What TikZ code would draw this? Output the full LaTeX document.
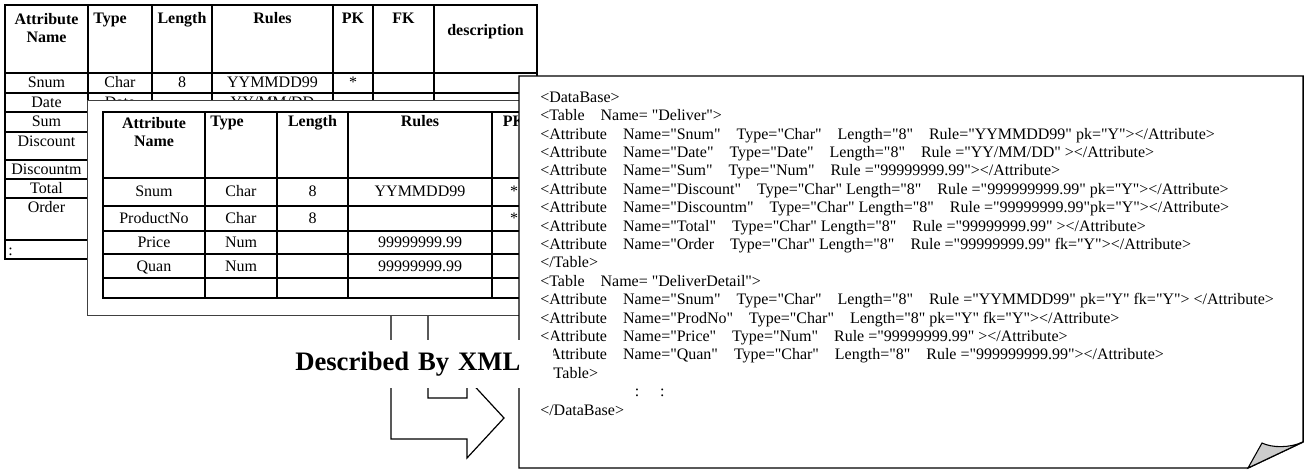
\documentclass[tikz,border=0pt]{standalone}
\usepackage{fontspec}
\setmainfont{Liberation Serif}[Ligatures=TeXOff]

\newcommand{\fgap}{\hspace{1.0em}}

\begin{document}
\begin{tikzpicture}[
        x=0.75pt, y=-0.75pt,
        cell/.style={font=\fontsize{12}{13.8}\selectfont, inner sep=0pt, anchor=base},
        head/.style={cell, font=\fontsize{12}{13.8}\selectfont\bfseries},
        headtwo/.style={head, align=center, anchor=north},
        grid/.style={line width=1.5pt, line cap=rect},
        panel/.style={fill=white, draw=black!75, line width=0.6pt},
        page/.style={fill=white, draw, line width=1.1pt, line join=miter},
        fold/.style={fill=black!20, draw, line width=0.8pt},
        bigarrow/.style={fill=white, draw, line width=0.9pt},
        xml/.style={font=\fontsize{12}{13.8}\selectfont, align=left, anchor=north west, inner sep=0pt},
        caption/.style={fill=white, anchor=north west, minimum height=36pt, text width=188pt,
            inner xsep=5.25pt, inner ysep=0pt, align=left, font=\fontsize{20}{24}\selectfont\bfseries}
    ]
    \useasboundingbox (0,0) rectangle (1305,470);

    % table behind
    \foreach \x in {5,88,152,212,333,373,434,537}
        \draw[grid] (\x,5) -- (\x,259);
    \foreach \y in {5,73,93,112,132,160,179,198,240,259}
        \draw[grid] (5,\y) -- (537,\y);
    \node[headtwo] (bh1) at (46.5,13) {Attribute\\Name};
    \node[head, anchor=base west] (bh2) at (93,24) {Type};
    \node[head] (bh3) at (182,24) {Length};
    \node[head] (bh4) at (272.5,24) {Rules};
    \node[head] (bh5) at (353,24) {PK};
    \node[head] (bh6) at (403.5,24) {FK};
    \node[head] (bh7) at (485.5,36) {description};
    \foreach \t/\yb [count=\i] in {Snum/88, Date/108, Sum/127, Discount/147,
            Discountm/174.5, Total/193.5, Order/213}
        \node[cell] (ba\i) at (46.5,\yb) {\t};
    \node[cell] (bb1) at (120,88) {Char};
    \node[cell] (bc1) at (182,88) {8};
    \node[cell] (bd1) at (272.5,88) {YYMMDD99};
    \node[cell] (be1) at (353,88) {*};
    \node[cell] (bb2) at (120,108) {Date};
    \node[cell] (bd2) at (272.5,108) {YY/MM/DD};
    \node[cell, anchor=base west] (bdots) at (8,255) {:};

    % arrow
    \draw[bigarrow] (391,300) -- (391,439) -- (467,439) -- (467,458) -- (504,418)
        -- (467,378) -- (467,398) -- (428,398) -- (428,300) -- cycle;

    % table in front
    \draw[panel] (87,100) rectangle (519,315);
    \foreach \x in {103,205,277,348,492,530}
        \draw[grid] (\x,112) -- (\x,298);
    \foreach \y in {112,178,206,231,254,278,298}
        \draw[grid] (103,\y) -- (530,\y);
    \node[headtwo] (fh1) at (154,117) {Attribute\\Name};
    \node[head, anchor=base west] (fh2) at (210,127) {Type};
    \node[head] (fh3) at (312.5,127) {Length};
    \node[head] (fh4) at (420,127) {Rules};
    \node[head] (fh5) at (514,127) {PK};
    \foreach \a/\b/\c/\d/\e/\yb [count=\i] in {Snum/Char/8/YYMMDD99/*/197,
            ProductNo/Char/8//*/223.5, Price/Num//99999999.99//247.5,
            Quan/Num//99999999.99//271}
    {
        \node[cell] (fa\i) at (154,\yb) {\a};
        \node[cell] (fb\i) at (241,\yb) {\b};
        \node[cell] (fc\i) at (312.5,\yb) {\c};
        \node[cell] (fd\i) at (420,\yb) {\d};
        \node[cell] (fe\i) at (514,\yb) {\e};
    }

    % xml page
    \draw[page] (519,76) -- (1303,76) -- (1303,442) -- (1248,468) -- (519,468) -- cycle;
    \draw[fold] (1248,468) -- (1262,443) .. controls (1272,448) and (1290,448) .. (1303,442) -- cycle;
    \node[xml] (code) at (540,91.5) {<DataBase>\\
        <Table\fgap Name= "Deliver">\\
        <Attribute\fgap Name="Snum"\fgap Type="Char"\fgap Length="8"\fgap Rule="YYMMDD99" pk="Y"></Attribute>\\
        <Attribute\fgap Name="Date"\fgap Type="Date"\fgap Length="8"\fgap Rule ="YY/MM/DD" ></Attribute>\\
        <Attribute\fgap Name="Sum"\fgap Type="Num"\fgap Rule ="99999999.99"></Attribute>\\
        <Attribute\fgap Name="Discount"\fgap Type="Char" Length="8"\fgap Rule ="999999999.99" pk="Y"></Attribute>\\
        <Attribute\fgap Name="Discountm"\fgap Type="Char" Length="8"\fgap Rule ="99999999.99"pk="Y"></Attribute>\\
        <Attribute\fgap Name="Total"\fgap Type="Char" Length="8"\fgap Rule ="99999999.99" ></Attribute>\\
        <Attribute\fgap Name="Order\fgap Type="Char" Length="8"\fgap Rule ="99999999.99" fk="Y"></Attribute>\\
        </Table>\\
        <Table\fgap Name= "DeliverDetail">\\
        <Attribute\fgap Name="Snum"\fgap Type="Char"\fgap Length="8"\fgap Rule ="YYMMDD99" pk="Y" fk="Y"> </Attribute>\\
        <Attribute\fgap Name="ProdNo"\fgap Type="Char"\fgap Length="8" pk="Y" fk="Y"></Attribute>\\
        <Attribute\fgap Name="Price"\fgap Type="Num"\fgap Rule ="99999999.99" ></Attribute>\\
        <Attribute\fgap Name="Quan"\fgap Type="Char"\fgap Length="8"\fgap Rule ="999999999.99"></Attribute>\\
        </Table>\\
        \hspace*{71pt}:\hspace{15.5pt}:\\
        </DataBase>};

    % caption over the arrow
    \node[caption] (lbl) at (288,340) {Described By XML};
\end{tikzpicture}
\end{document}
